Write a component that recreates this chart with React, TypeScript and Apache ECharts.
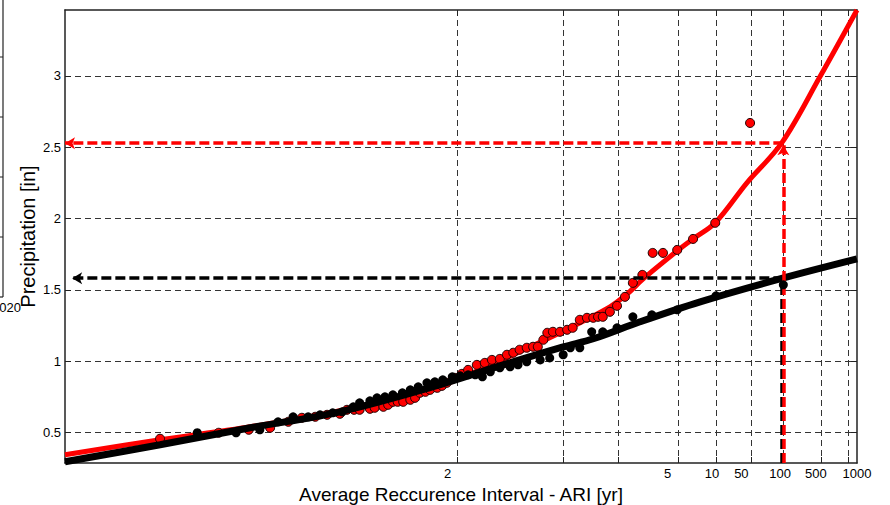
import React, { useEffect, useRef } from 'react';
import * as echarts from 'echarts';

// Axis ticks / labels (x is a plotting-position scale 0..100)
const yTicks = [0.5, 1, 1.5, 2, 2.5, 3];
const xGridPos = [49.5, 62.9, 69.8, 77.4, 82.2, 86.6, 90.7, 95.5, 98.9];
const xLabelPos = [48.3, 76.1, 81.7, 85.4, 90.3, 94.8, 100];
const xLabelText = ['2', '5', '10', '50', '100', '500', '1000'];

// Fitted curves
const redFitX = [0, 12.0, 23.4, 34.7, 47.3, 52.4, 57.4, 62.5, 68.8, 71.0, 73.0, 77.3, 79.3, 82.1, 86.1, 90.5, 95.3, 100];
const redFitY = [0.344, 0.449, 0.54, 0.652, 0.827, 0.939, 1.066, 1.199, 1.381, 1.472, 1.577, 1.773, 1.857, 1.97, 2.25, 2.53, 2.992, 3.462];
const blackFitX = [0, 12.0, 23.4, 34.7, 47.3, 54.9, 62.9, 66.7, 72.6, 80.2, 90.5, 100];
const blackFitY = [0.295, 0.414, 0.533, 0.645, 0.834, 0.967, 1.1, 1.157, 1.276, 1.416, 1.58, 1.717];

// Observed points
const redObsX = [12.0, 19.4, 23.2, 25.9, 28.2, 29.9, 31.6, 33.1, 34.7, 35.6, 36.5, 37.2, 38.5, 39.1, 40.2, 40.8, 41.4, 42.0, 42.7, 43.6, 44.2, 44.8, 45.5, 46.1, 47.0, 47.6, 48.2, 49.2, 50.1, 50.9, 52.0, 53.0, 53.9, 54.9, 55.8, 56.6, 57.4, 58.3, 59.1, 59.7, 60.4, 60.9, 61.6, 62.5, 63.4, 64.1, 65.0, 65.9, 66.7, 67.3, 67.9, 68.8, 69.7, 70.7, 71.7, 72.9, 74.2, 75.5, 77.3, 79.3, 82.1, 86.5];
const redObsY = [0.456, 0.498, 0.519, 0.533, 0.575, 0.603, 0.61, 0.624, 0.631, 0.659, 0.659, 0.659, 0.666, 0.673, 0.68, 0.694, 0.715, 0.715, 0.715, 0.729, 0.743, 0.778, 0.785, 0.799, 0.813, 0.827, 0.848, 0.883, 0.911, 0.939, 0.974, 0.988, 1.009, 1.016, 1.045, 1.059, 1.08, 1.094, 1.101, 1.101, 1.15, 1.199, 1.206, 1.206, 1.22, 1.234, 1.29, 1.304, 1.304, 1.311, 1.311, 1.346, 1.388, 1.451, 1.549, 1.605, 1.759, 1.759, 1.78, 1.857, 1.97, 2.67];
const blackObsX = [16.7, 21.6, 24.6, 26.9, 28.8, 30.7, 32.2, 33.8, 35.0, 36.4, 37.2, 38.5, 39.4, 40.4, 41.4, 42.6, 43.6, 44.6, 45.7, 46.7, 47.7, 48.9, 49.9, 50.9, 51.8, 52.7, 53.7, 54.9, 56.2, 57.2, 58.3, 60.0, 61.2, 62.9, 63.8, 65.0, 66.5, 67.9, 69.7, 71.7, 74.1, 77.3, 82.2, 90.7];
const blackObsY = [0.498, 0.498, 0.519, 0.575, 0.61, 0.61, 0.624, 0.638, 0.645, 0.68, 0.708, 0.722, 0.743, 0.75, 0.764, 0.778, 0.799, 0.82, 0.848, 0.855, 0.869, 0.89, 0.897, 0.904, 0.904, 0.89, 0.925, 0.953, 0.96, 0.974, 0.995, 1.009, 1.023, 1.045, 1.094, 1.094, 1.206, 1.206, 1.234, 1.311, 1.325, 1.36, 1.458, 1.535];

// 100-yr design values
const ari100X = 90.7;
const red100 = 2.528;
const black100 = 1.582;

const Y_MIN = 0.286;
const Y_MAX = 3.462;
const FONT = '"Liberation Sans", Arial, Helvetica, sans-serif';

const zip = (xs: number[], ys: number[]) => xs.map((x, i) => [x, ys[i]]);

export default function App() {
  const ref = useRef<HTMLDivElement>(null);
  useEffect(() => {
    if (!ref.current) return;
    const chart = echarts.init(ref.current, undefined, { renderer: 'svg' });
    const gridLine = { show: true, lineStyle: { color: '#333', width: 1, type: [6, 4] as any } };
    const axisLine = { show: true, onZero: false, lineStyle: { color: '#222', width: 1.5 } };
    const xAxisBase = {
      type: 'value' as const,
      min: 0,
      max: 100,
      axisLine,
      axisTick: { show: true, inside: true, length: 6, customValues: xGridPos, lineStyle: { color: '#222' } },
    };
    const yAxisBase = {
      type: 'value' as const,
      min: Y_MIN,
      max: Y_MAX,
      axisLine,
      axisTick: { show: true, inside: true, length: 6, customValues: yTicks, lineStyle: { color: '#222' } },
    };
    const dashLine = (color: string, from: number[], to: number[], z: number, arrow: boolean) => ({
      type: 'line',
      data: [],
      z,
      silent: true,
      markLine: {
        silent: true,
        animation: false,
        symbol: ['none', arrow ? 'arrow' : 'none'],
        symbolSize: [9, 10],
        label: { show: false },
        lineStyle: { color, width: 3.5, type: [10, 4] },
        emphasis: { disabled: true },
        data: [[{ coord: from }, { coord: to }]],
      },
    });
    chart.setOption({
      animation: false,
      backgroundColor: '#fff',
      textStyle: { fontFamily: FONT },
      grid: { left: 65, right: 33, top: 10, bottom: 42, outerBoundsMode: 'none' } as any,
      xAxis: [
        {
          ...xAxisBase,
          position: 'bottom',
          name: 'Average Reccurence Interval - ARI [yr]',
          nameLocation: 'middle',
          nameGap: 22,
          nameMoveOverlap: false,
          nameTextStyle: { fontSize: 19, color: '#000', fontFamily: FONT },
          splitLine: gridLine,
          axisLabel: {
            show: true,
            customValues: xLabelPos,
            margin: 4,
            fontSize: 13,
            color: '#000',
            fontFamily: FONT,
            hideOverlap: false,
            formatter: (v: number) => {
              const i = xLabelPos.findIndex((p) => Math.abs(p - v) < 0.01);
              return i >= 0 ? xLabelText[i] : '';
            },
          },
        },
        {
          ...xAxisBase,
          position: 'top',
          splitLine: { show: false },
          axisLabel: { show: false },
        },
      ],
      yAxis: [
        {
          ...yAxisBase,
          position: 'left',
          name: 'Precipitation [in]',
          nameLocation: 'middle',
          nameGap: 27,
          nameMoveOverlap: false,
          nameRotate: 90,
          nameTextStyle: { fontSize: 20, color: '#000', fontFamily: FONT },
          splitLine: gridLine,
          axisLabel: {
            show: true,
            customValues: yTicks,
            margin: 4,
            fontSize: 13,
            color: '#000',
            fontFamily: FONT,
            formatter: (v: number) => String(v),
          },
        },
        {
          ...yAxisBase,
          position: 'right',
          splitLine: { show: false },
          axisLabel: { show: false },
        },
      ],
      series: [
        {
          type: 'line',
          data: zip(redFitX, redFitY),
          smooth: 0.35,
          showSymbol: false,
          lineStyle: { color: '#ff0000', width: 5 },
          z: 2,
          silent: true,
        },
        {
          type: 'scatter',
          data: zip(redObsX, redObsY),
          symbol: 'circle',
          symbolSize: 9,
          itemStyle: { color: '#ff0000', borderColor: '#200000', borderWidth: 1, opacity: 1 },
          z: 3,
          silent: true,
        },
        {
          type: 'line',
          data: zip(blackFitX, blackFitY),
          smooth: 0.35,
          showSymbol: false,
          lineStyle: { color: '#000', width: 7 },
          z: 4,
          silent: true,
        },
        {
          type: 'scatter',
          data: zip(blackObsX, blackObsY),
          symbol: 'circle',
          symbolSize: 9,
          itemStyle: { color: '#000', opacity: 1 },
          z: 5,
          silent: true,
        },
        dashLine('#000', [ari100X - 0.15, Y_MIN], [ari100X - 0.15, black100 - 0.03], 6, false),
        dashLine('#000', [ari100X, black100], [0.9, black100], 7, true),
        dashLine('#ff0000', [ari100X, red100], [0, red100], 8, true),
        dashLine('#ff0000', [ari100X, Y_MIN], [ari100X, red100 - 0.015], 9, true),
      ],
      graphic: [
        { type: 'line', shape: { x1: 3, y1: 0, x2: 3, y2: 297 }, style: { stroke: '#222', lineWidth: 1.2 } },
        { type: 'line', shape: { x1: 0, y1: 297, x2: 3, y2: 297 }, style: { stroke: '#222', lineWidth: 1.2 } },
        { type: 'line', shape: { x1: 0, y1: 57, x2: 3, y2: 57 }, style: { stroke: '#222', lineWidth: 1 } },
        { type: 'line', shape: { x1: 0, y1: 117, x2: 3, y2: 117 }, style: { stroke: '#222', lineWidth: 1 } },
        { type: 'line', shape: { x1: 0, y1: 177, x2: 3, y2: 177 }, style: { stroke: '#222', lineWidth: 1 } },
        { type: 'line', shape: { x1: 0, y1: 237, x2: 3, y2: 237 }, style: { stroke: '#222', lineWidth: 1 } },
        {
          type: 'text',
          x: 21,
          y: 307,
          style: { text: '020', fontSize: 13, fontFamily: FONT, fill: '#000', align: 'right', verticalAlign: 'middle' },
        },
      ],
    });
    return () => chart.dispose();
  }, []);
  return <div ref={ref} style={{ width: 890, height: 505, position: 'absolute', left: 0, top: 0 }} />;
}
